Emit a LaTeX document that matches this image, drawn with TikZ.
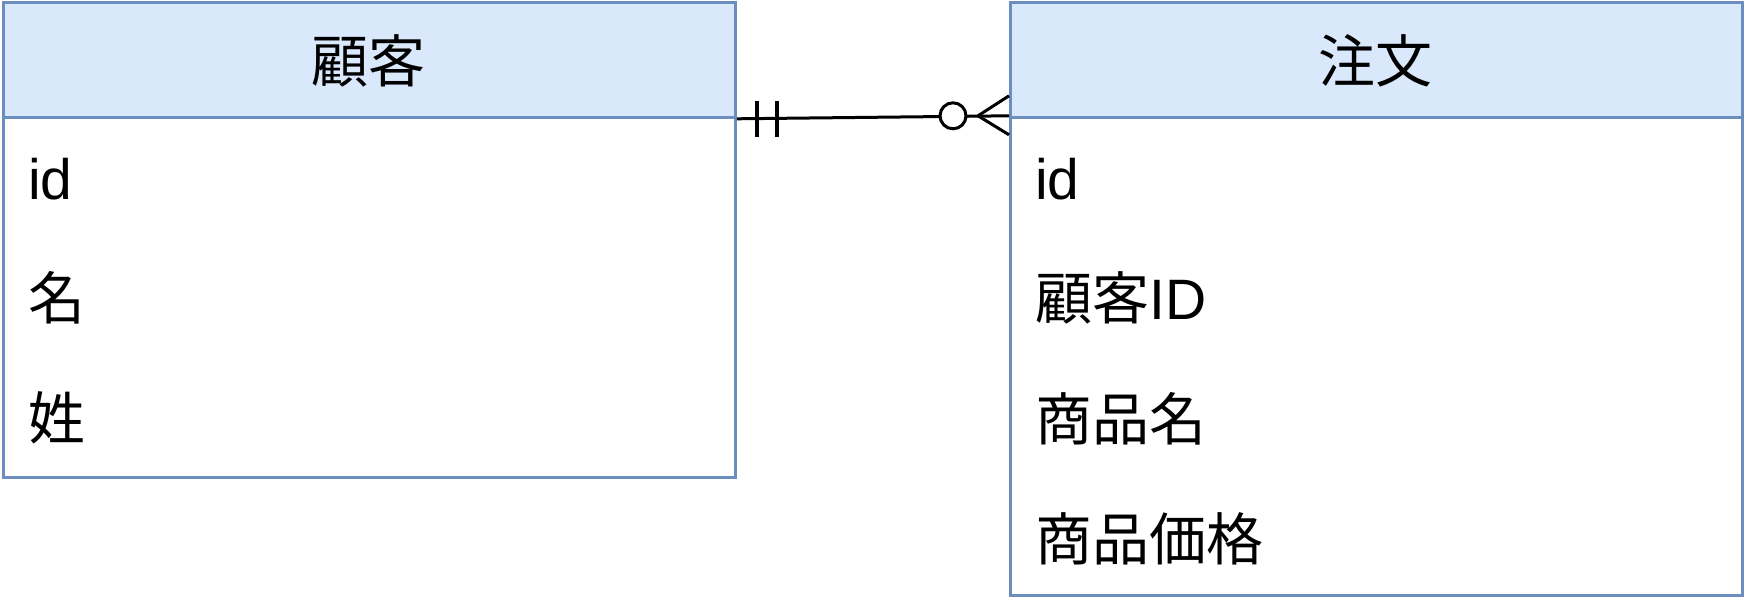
\documentclass[tikz,border=0pt]{standalone}
\usepackage{fontspec}
\setmainfont{Liberation Sans}
\newfontfamily\cjk{Noto Sans CJK JP}
\usetikzlibrary{calc}
\definecolor{erline}{HTML}{6C8EBF}
\definecolor{erfill}{HTML}{DAE8FC}
\begin{document}
\begin{tikzpicture}[x=1pt,y=-1pt]
      \useasboundingbox (0,0) rectangle (1744,608);
      \tikzstyle{ehead} = [draw=erline, fill=erfill, line width=2.8pt, anchor=north west, inner sep=0pt, minimum width=732pt, minimum height=115pt]
      \tikzstyle{ebody} = [draw=erline, fill=white, line width=2.8pt, anchor=north west, inner sep=0pt, minimum width=732pt]
      \tikzstyle{etitle} = [anchor=base, inner sep=0pt, font=\fontsize{57}{60}\selectfont\cjk]
      \tikzstyle{eattr} = [anchor=base west, inner sep=0pt, font=\fontsize{57}{60}\selectfont]
      \tikzstyle{rel} = [line width=3pt, black]

      % 顧客
      \node[ebody, minimum height=360pt] (custbody) at (2,116) {};
      \node[ehead] (cust) at (2,1) {};
      \node[etitle] (custname) at (368,82) {\cjk 顧客};
      \node[eattr] (cust1) at (28,199) {id};
      \node[eattr] (cust2) at (28,319) {\cjk 名};
      \node[eattr] (cust3) at (28,439) {\cjk 姓};

      % 注文
      \node[ebody, minimum height=478pt] (ordbody) at (1009,116) {};
      \node[ehead] (ord) at (1009,1) {};
      \node[etitle] (ordname) at (1375,82) {\cjk 注文};
      \node[eattr] (ord1) at (1035,199) {id};
      \node[eattr] (ord2) at (1035,319) {{\cjk 顧客}ID};
      \node[eattr] (ord3) at (1035,440) {\cjk 商品名};
      \node[eattr] (ord4) at (1035,560) {\cjk 商品価格};

      \coordinate (a) at (cust.south east);
      \coordinate (b) at ($(ord.south west)+(0,-3)$);
      \coordinate (foot) at ($(b)+(-31,0)$);

      \draw[rel] (a) to (b);
      % one and only one
      \draw[rel, line width=3.8pt] ($(a)+(20,-18)$) to ($(a)+(20,18)$);
      \draw[rel, line width=3.8pt] ($(a)+(40,-18)$) to ($(a)+(40,18)$);
      % zero or many
      \draw[rel] (foot) to ($(b)+(0,-20)$);
      \draw[rel] (foot) to ($(b)+(0,19)$);
      \draw[rel, fill=white] ($(b)+(-56,0)$) circle (13);
\end{tikzpicture}
\end{document}
